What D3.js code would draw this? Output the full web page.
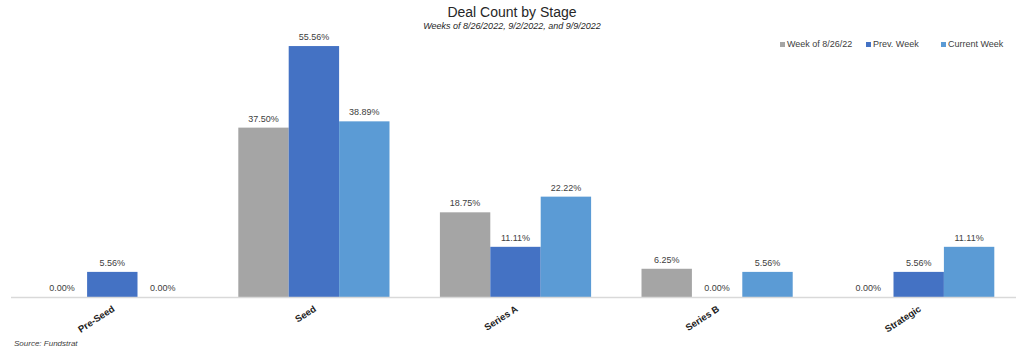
<!DOCTYPE html>
<html><head><meta charset="utf-8">
<script src="https://cdn.jsdelivr.net/npm/d3@7"></script>
<style>body{margin:0;background:#fff;}svg{display:block;font-family:Arial,"Liberation Sans",sans-serif;}</style>
</head><body>
<svg id="c" width="1024" height="356"></svg>
<script>
const categories = ["Pre-Seed","Seed","Series A","Series B","Strategic"];
const seriesNames = ["Week of 8/26/22","Prev. Week","Current Week"];
const week0826 = [0.00, 37.50, 18.75, 6.25, 0.00];
const prevWeek = [5.56, 55.56, 11.11, 0.00, 5.56];
const currentWeek = [0.00, 38.89, 22.22, 5.56, 11.11];
const colors = ["#A5A5A5","#4472C4","#5B9BD5"];
const seriesValues = [week0826, prevWeek, currentWeek];

const svg = d3.select("#c");
const x0 = d3.scaleBand().domain(categories).range([11.5, 1019.5]).paddingInner(0.25).paddingOuter(0.125);
const x1 = d3.scaleBand().domain(seriesNames).range([0, x0.bandwidth()]);
const y = d3.scaleLinear().domain([0, 60]).range([297, 26]);

// bars
categories.forEach((c, i) => {
  seriesNames.forEach((s, j) => {
    const v = seriesValues[j][i];
    const bx = x0(c) + x1(s);
    if (v > 0) {
      svg.append("rect").attr("x", bx).attr("y", y(v)).attr("width", x1.bandwidth()).attr("height", y(0) - y(v)).attr("fill", colors[j]);
    }
    svg.append("text").attr("x", bx + x1.bandwidth()/2).attr("y", y(v) - 6)
      .attr("text-anchor","middle").attr("font-size", 9).attr("fill","#404040").text(v.toFixed(2) + "%");
  });
});

// axis
const xAxis = d3.axisBottom(x0).tickSize(0).tickSizeOuter(0);
const ax = svg.append("g").attr("transform","translate(0,297.5)").call(xAxis);
ax.select(".domain").attr("stroke","#D9D9D9").attr("stroke-width",1.5).attr("d","M11,0H1016");
ax.selectAll("text").attr("font-size",9.5).attr("font-weight","bold").attr("fill","#202020")
  .attr("text-anchor","end").attr("dy",null).attr("y",0)
  .attr("transform","translate(3,13) rotate(-33)");

// title
svg.append("text").attr("x",512).attr("y",17).attr("text-anchor","middle").attr("font-size",14).attr("fill","#262626").text("Deal Count by Stage");
svg.append("text").attr("x",512).attr("y",29).attr("text-anchor","middle").attr("font-size",9).attr("font-style","italic").attr("fill","#262626").text("Weeks of 8/26/2022, 9/2/2022, and 9/9/2022");

// legend
const legX = [780, 866, 941];
seriesNames.forEach((s, j) => {
  const g = svg.append("g").attr("transform",`translate(${legX[j]},47)`);
  g.append("rect").attr("x",0).attr("y",-5).attr("width",5).attr("height",5).attr("fill",colors[j]);
  g.append("text").attr("x",7).attr("y",0).attr("font-size",9).attr("fill","#404040").text(s);
});

// source
svg.append("text").attr("x",14).attr("y",346).attr("font-size",8).attr("font-style","italic").attr("fill","#404040").text("Source: Fundstrat");
</script>
</body></html>
